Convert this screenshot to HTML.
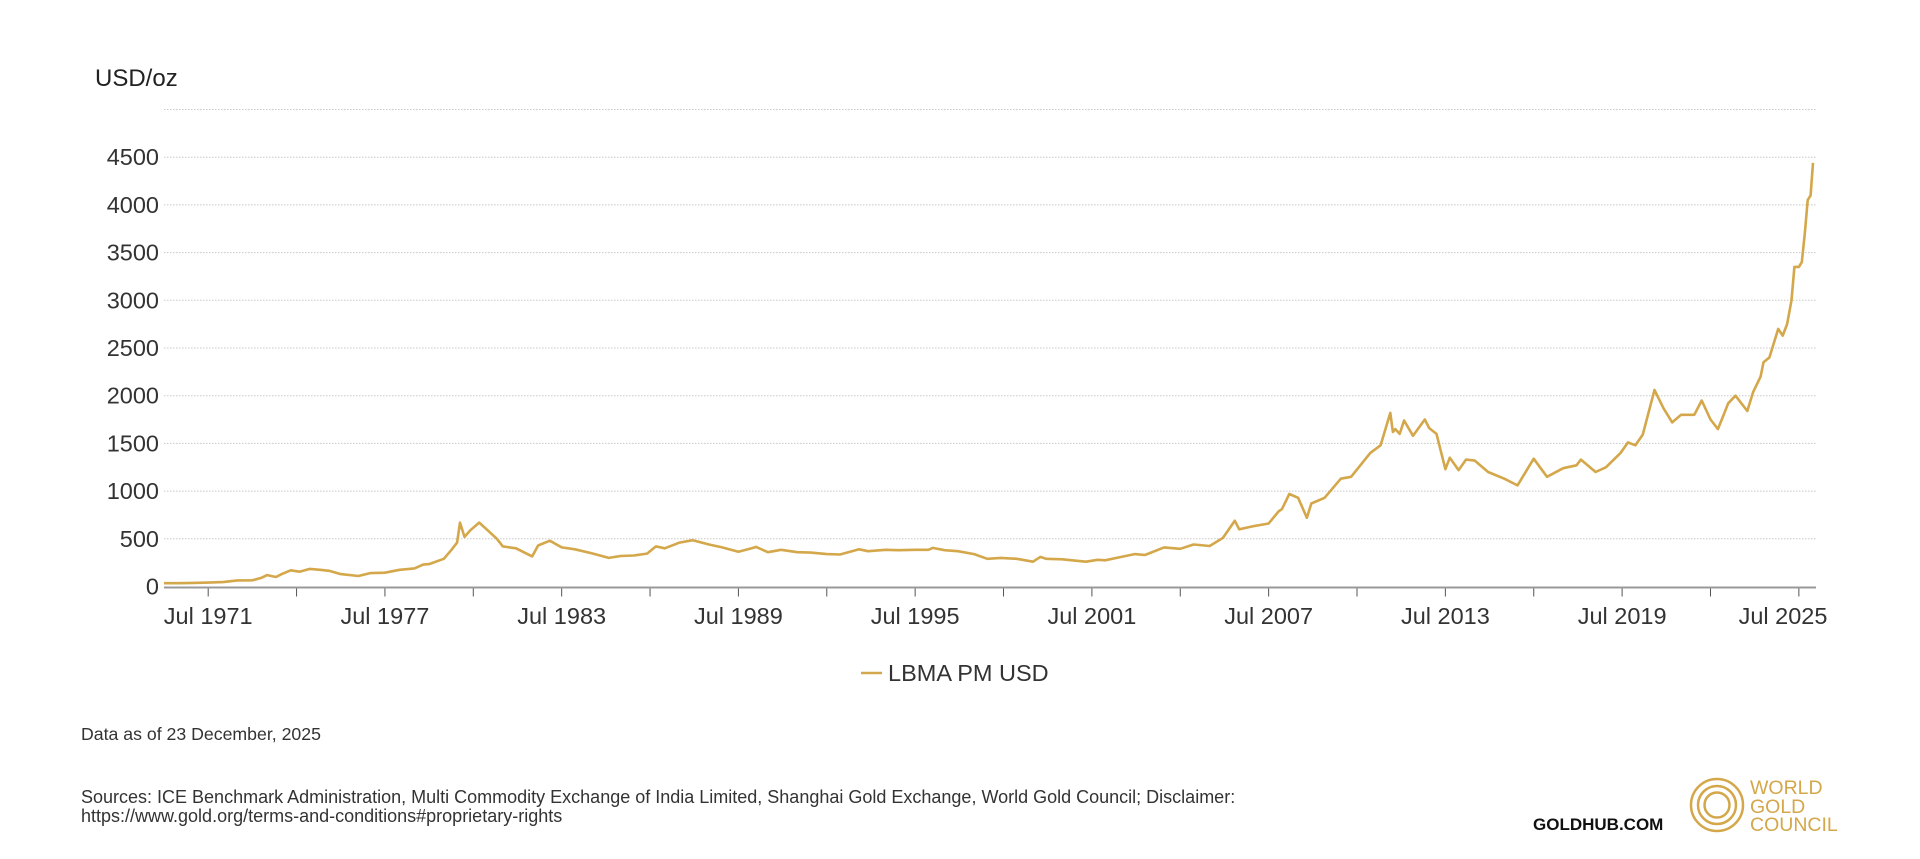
<!DOCTYPE html>
<html><head><meta charset="utf-8">
<style>
html,body{margin:0;padding:0;background:#fff;}
body{width:1920px;height:859px;position:relative;overflow:hidden;font-family:"Liberation Sans",sans-serif;color:#333;}
</style></head>
<body>
<svg id="chart" width="1920" height="859" style="position:absolute;left:0;top:0">
  <text x="95" y="86" font-size="24" fill="#222">USD/oz</text>
  <g id="grid"></g>
  <g id="yticks"></g>
  <g id="xticks"></g>
  <path id="line" fill="none" stroke="#d4a74a" stroke-width="2.6" stroke-linejoin="round"></path>
  <g>
    <line x1="861" y1="673" x2="882" y2="673" stroke="#d4a74a" stroke-width="2.6"></line>
    <text x="888" y="681" font-size="23.5" fill="#333">LBMA PM USD</text>
  </g>
  <text x="81" y="740" font-size="17.7" fill="#333">Data as of 23 December, 2025</text>
  <text x="81" y="803" font-size="18" fill="#333">Sources: ICE Benchmark Administration, Multi Commodity Exchange of India Limited, Shanghai Gold Exchange, World Gold Council; Disclaimer:</text>
  <text x="81" y="822" font-size="18" fill="#333">https://www.gold.org/terms-and-conditions#proprietary-rights</text>
  <text x="1533" y="830" font-size="17" font-weight="bold" fill="#111">GOLDHUB.COM</text>
  <g fill="none" stroke="#d4a74a" stroke-width="2.5">
    <circle cx="1717" cy="805" r="26"></circle>
    <circle cx="1717" cy="805" r="19"></circle>
    <circle cx="1717" cy="805" r="12.5"></circle>
  </g>
  <g font-size="19.5" fill="#d4a74a">
    <text x="1750" y="794">WORLD</text>
    <text x="1750" y="813">GOLD</text>
    <text x="1750" y="831">COUNCIL</text>
  </g>
</svg>
<script>
const yTicks=[0,500,1000,1500,2000,2500,3000,3500,4000,4500];
const xTickLabels=["Jul 1971","Jul 1977","Jul 1983","Jul 1989","Jul 1995","Jul 2001","Jul 2007","Jul 2013","Jul 2019","Jul 2025"];
const xTickYears=[1971.5,1974.5,1977.5,1980.5,1983.5,1986.5,1989.5,1992.5,1995.5,1998.5,2001.5,2004.5,2007.5,2010.5,2013.5,2016.5,2019.5,2022.5,2025.5];
const dates=[1970,1970.5,1971,1971.5,1972,1972.5,1973,1973.3,1973.5,1973.8,1974,1974.3,1974.6,1974.95,1975.3,1975.6,1976,1976.6,1977,1977.5,1978,1978.5,1978.8,1979,1979.5,1979.75,1979.95,1980.05,1980.2,1980.4,1980.7,1980.95,1981.3,1981.5,1981.95,1982.5,1982.7,1983.1,1983.5,1983.95,1984.5,1985.1,1985.5,1985.95,1986.4,1986.7,1987,1987.5,1987.95,1988.5,1988.95,1989.5,1989.95,1990.1,1990.5,1990.95,1991.5,1991.95,1992.5,1992.95,1993.6,1993.9,1994.5,1994.95,1995.5,1995.95,1996.1,1996.5,1996.95,1997.5,1997.95,1998.4,1998.95,1999.5,1999.75,1999.95,2000.5,2000.95,2001.3,2001.7,2001.95,2002.5,2002.95,2003.3,2003.95,2004.3,2004.5,2004.95,2005.5,2005.95,2006.35,2006.5,2006.95,2007.5,2007.85,2007.95,2008.2,2008.5,2008.8,2008.95,2009.4,2009.95,2010.3,2010.95,2011.3,2011.63,2011.72,2011.8,2011.95,2012.1,2012.4,2012.8,2012.95,2013.2,2013.5,2013.65,2013.95,2014.2,2014.5,2014.95,2015.5,2015.95,2016.5,2016.95,2017.5,2017.95,2018.1,2018.6,2018.95,2019.45,2019.7,2019.95,2020.2,2020.6,2020.9,2021.2,2021.5,2021.95,2022.2,2022.5,2022.75,2022.95,2023.1,2023.35,2023.75,2023.95,2024.2,2024.3,2024.5,2024.8,2024.95,2025.1,2025.25,2025.35,2025.5,2025.6,2025.7,2025.8,2025.9,2025.98];
const prices=[35,35,38,41,46,64,65,90,120,100,130,170,155,185,175,165,130,110,140,145,175,190,230,235,290,380,460,670,520,590,670,600,500,420,400,315,430,480,410,390,350,300,320,325,345,420,400,460,485,440,410,365,400,415,360,385,360,355,340,335,390,370,385,380,385,385,405,380,370,340,290,300,290,260,310,290,285,270,260,280,275,310,340,330,410,400,395,440,425,510,690,600,630,660,790,810,970,930,720,870,930,1130,1150,1400,1480,1820,1620,1650,1600,1740,1580,1750,1660,1600,1230,1350,1220,1330,1320,1200,1130,1060,1340,1150,1240,1270,1330,1200,1250,1400,1510,1480,1590,2060,1870,1720,1800,1800,1950,1750,1650,1800,1920,2000,1840,2040,2200,2350,2400,2700,2630,2750,3000,3350,3350,3400,3700,4050,4100,4440];
const X0=164,X1=1813,Y0=586.5,PX=47.7/500;
function xS(t){return X0+(t-1970)/(2025.98-1970)*(X1-X0);}
function yS(v){return Y0-v*PX;}
const NS="http://www.w3.org/2000/svg";
const grid=document.getElementById('grid');
for(let v=500;v<=5000;v+=500){
  const l=document.createElementNS(NS,'line');
  
  
  l.setAttribute('x1',X0);l.setAttribute('x2',1816);l.setAttribute('y1',yS(v));l.setAttribute('y2',yS(v));
  l.setAttribute('stroke','#c8c8c8');l.setAttribute('stroke-width','1');l.setAttribute('stroke-dasharray','1.5 1.5');
  grid.appendChild(l);
}
const yt=document.getElementById('yticks');
yTicks.forEach(v=>{
  const t=document.createElementNS(NS,'text');
  
  
  t.setAttribute('x',159);t.setAttribute('y',yS(v)+8);t.setAttribute('text-anchor','end');
  t.setAttribute('font-size','23.5');t.setAttribute('fill','#333');t.textContent=v;
  yt.appendChild(t);
});
const xt=document.getElementById('xticks');
const ax=document.createElementNS(NS,'line');


ax.setAttribute('x1',X0);ax.setAttribute('x2',1816);ax.setAttribute('y1',Y0+1);ax.setAttribute('y2',Y0+1);
ax.setAttribute('stroke','#999');ax.setAttribute('stroke-width','2');
xt.appendChild(ax);
xTickYears.forEach(y=>{
  const l=document.createElementNS(NS,'line');
  
  
  l.setAttribute('x1',xS(y));l.setAttribute('x2',xS(y));l.setAttribute('y1',Y0+2);l.setAttribute('y2',Y0+10);
  l.setAttribute('stroke','#555');l.setAttribute('stroke-width','1');
  xt.appendChild(l);
});
xTickLabels.forEach((s,i)=>{
  const t=document.createElementNS(NS,'text');
  
  
  let x=xS(xTickYears[i*2]);
  if(i===xTickLabels.length-1)x=Math.min(x,1783);
  t.setAttribute('x',x);t.setAttribute('y',624);t.setAttribute('text-anchor','middle');
  t.setAttribute('font-size','23.5');t.setAttribute('fill','#333');t.textContent=s;
  xt.appendChild(t);
});
let d='';
dates.forEach((t,i)=>{d+=(i?'L':'M')+xS(t).toFixed(1)+','+yS(prices[i]).toFixed(1);});
document.getElementById('line').setAttribute('d',d);
</script>
</body></html>
